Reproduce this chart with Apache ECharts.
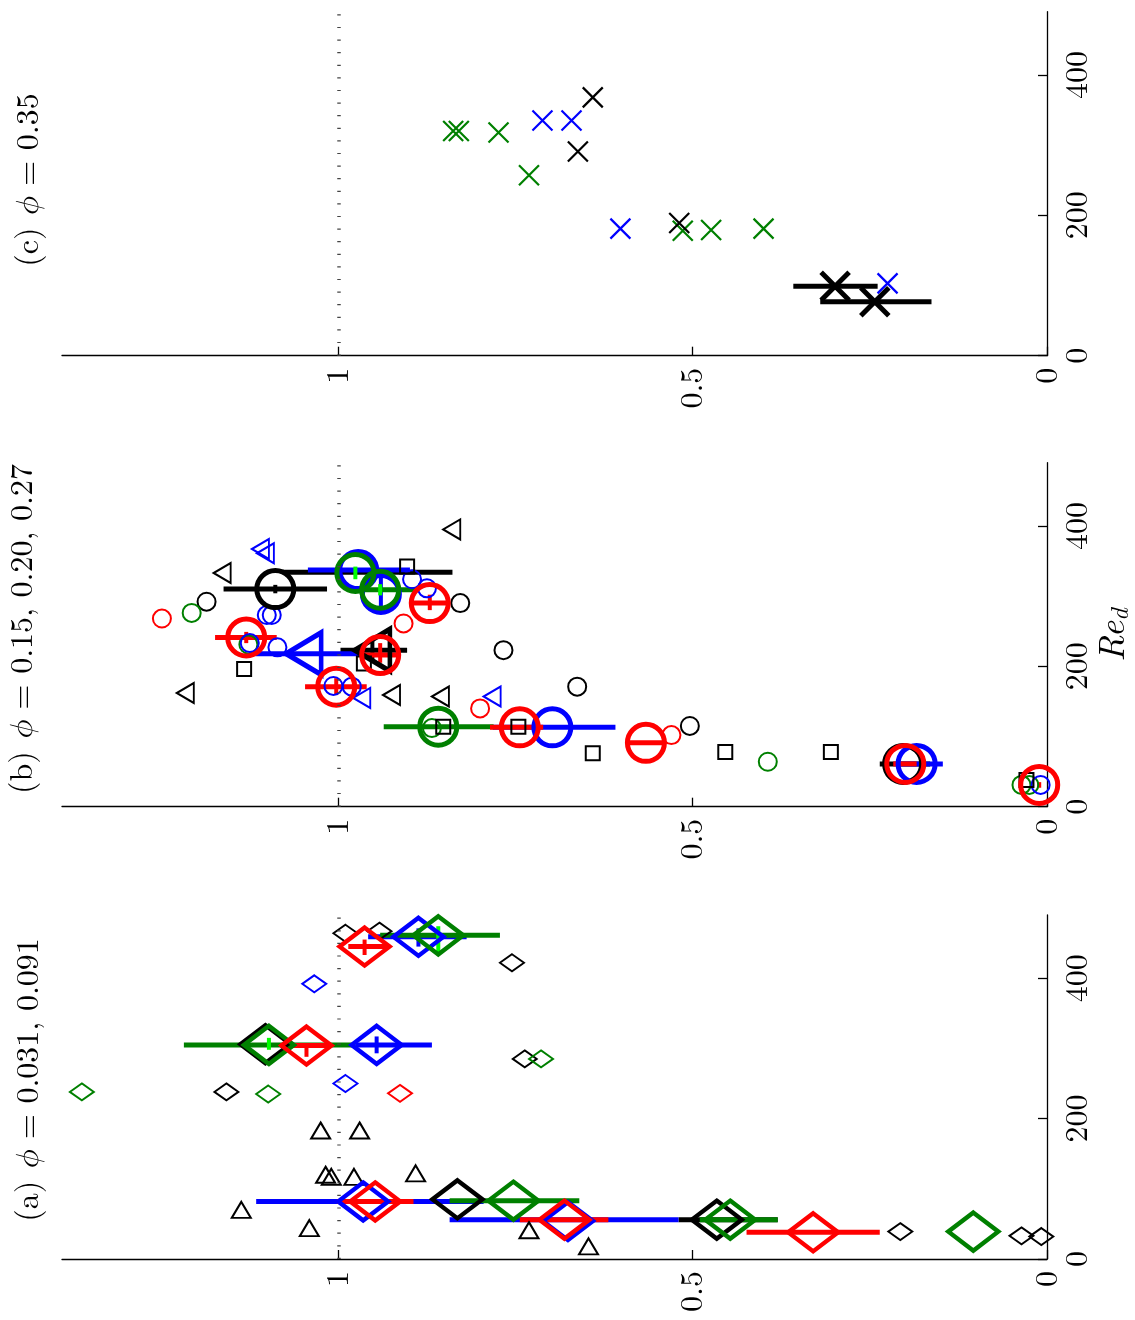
<!DOCTYPE html>
<html><head><meta charset="utf-8">
<script src="https://cdn.jsdelivr.net/npm/echarts@6/dist/echarts.min.js"></script>
<style>html,body{margin:0;padding:0;background:#fff}#c{width:1135px;height:1320px}</style>
</head><body><div id="c"></div>
<script>
// ---------- tick labels ----------
const valueTicks = [0, 0.5, 1];
const reTicks = [0, 200, 400];
const panelTitles = ['(c) {p|ϕ} = 0.35', '(b) {p|ϕ} = 0.15, 0.20, 0.27', '(a) {p|ϕ} = 0.031, 0.091'];

// ---------- panel (c) phi = 0.35 : [value, Re_d] ----------
const cSmallXGreen = [[0.838,320],[0.830,320],[0.774,318],[0.731,257],[0.514,178],[0.474,179],[0.400,181]];
const cSmallXBlue  = [[0.712,335],[0.671,335],[0.602,181],[0.225,103]];
const cSmallXBlack = [[0.641,368],[0.662,291],[0.519,189]];
const cBigXBlack   = [[0.299,99],[0.243,77]];
const cBarBlack    = [[99,0.358,0.239],[77,0.320,0.163]];   // [Re, vLo, vHi]

// ---------- panel (b) ----------
const bSmallCircleBlack = [[1.186,292],[0.828,290],[0.767,223],[0.663,171],[0.504,115]];
const bSmallCircleGreen = [[1.207,276],[1.127,231],[0.868,112],[0.394,64],[0.036,31],[0.025,31]];
const bSmallCircleRed   = [[1.249,268],[0.908,261],[0.800,140],[0.530,102]];
const bSmallCircleBlue  = [[1.101,273],[1.094,273],[0.896,324],[0.875,311],[1.125,233],[1.086,227],[1.007,172],[0.981,171],[0.009,31]];
const bSquareBlack      = [[0.903,342],[1.133,196],[0.964,204],[0.852,114],[0.746,114],[0.641,76],[0.454,78],[0.305,78],[0.029,38]];
const bSmallTriBlack    = [[1.164,333],[1.216,162],[0.925,159],[0.856,157],[0.840,395]];
const bSmallTriBlue     = [[1.110,367],[1.103,361],[0.967,155],[0.783,157]];
const bBigCircleBlack   = [[1.089,310],[0.203,61]];
const bBigTriBlack      = [[0.952,223]];
const bBigCircleBlue    = [[0.972,337],[0.940,303],[0.698,113],[0.184,61]];
const bBigTriBlue       = [[1.049,218]];
const bBigCircleGreen   = [[0.976,333],[0.941,309],[0.859,114]];
const bBigCircleRed     = [[0.871,290],[1.130,241],[0.941,216],[1.003,171],[0.566,91],[0.744,113],[0.200,61],[0.011,31]];
const bBarBlack = [[310,1.162,1.016],[334,1.078,0.839],[223,0.997,0.903],[61,0.236,0.165]];
const bBarBlue  = [[337,1.043,0.899],[218,1.117,0.969],[113,0.782,0.609],[61,0.210,0.147]];
const bBarGreen = [[309,0.980,0.890],[114,0.936,0.781]];
const bBarRed   = [[290,0.896,0.847],[241,1.174,1.087],[216,0.967,0.913],[171,1.047,0.960],[91,0.591,0.542],[113,0.786,0.711],[61,0.217,0.184]];
const bVBarBlack = [[1.089,304,316],[0.952,208,238]];          // [v, ReLo, ReHi]
const bVBarBlue  = [[0.940,278,328]];
const bVBarLime  = [[0.976,324,342],[0.941,301,317]];
const bVBarRed   = [[0.871,280,302],[1.130,233,249],[0.941,205,233],[1.003,159,183],[0.011,27,35]];

// ---------- panel (a) ----------
const aSmallDiaBlack = [[1.158,238],[0.990,464],[0.942,467],[0.755,422],[0.737,285],[0.207,39],[0.036,33],[0.008,32]];
const aSmallDiaGreen = [[1.362,238],[1.099,235],[0.714,285]];
const aSmallDiaBlue  = [[0.990,250],[1.034,392]];
const aSmallDiaRed   = [[0.913,236]];
const aSmallTriBlack = [[1.025,183],[0.970,183],[1.018,120],[1.010,117],[0.978,117],[0.891,122],[1.137,70],[1.041,44],[0.731,41],[0.647,18]];
const aBigDiaBlack = [[1.103,306],[0.832,85],[0.466,56]];
const aBigDiaBlue  = [[0.887,459],[0.946,305],[0.965,82],[0.676,54]];
const aBigDiaGreen = [[0.859,461],[1.098,305],[0.753,83],[0.447,56],[0.104,39]];
const aBigDiaRed   = [[0.963,445],[1.045,304],[0.948,82],[0.681,56],[0.330,38]];
const aBarBlack = [[56,0.520,0.380]];
const aBarBlue  = [[459,0.958,0.819],[305,0.976,0.868],[82,1.116,0.795],[56,0.843,0.520]];
const aBarGreen = [[461,0.941,0.772],[305,1.218,0.976],[83,0.843,0.660],[56,0.490,0.380]];
const aBarRed   = [[445,0.986,0.927],[304,1.082,1.009],[82,1.002,0.894],[56,0.744,0.619],[38,0.424,0.236]];
const aVBarBlue = [[0.887,445,471],[0.946,293,317]];
const aVBarLime = [[0.859,436,474],[1.098,298,315]];
const aVBarRed  = [[0.963,433,455],[1.045,288,307]];

// ---------- styling ----------
const FONT = '"Latin Modern Roman", "Liberation Serif", serif';
const PHIFONT = '"Latin Modern Math", "Latin Modern Roman", "Liberation Serif", serif';
const K = '#000000', B = '#0000ff', R = '#ff0000', G = '#008000', L = '#00ff00';
const XSYM = 'path://M0,0L10,10M10,0L0,10';
const tops = [11.7, 462.7, 915];

function pts(g, data, sym, size, color, lw, rot) {
  return {type:'scatter', xAxisIndex:g, yAxisIndex:g, data, symbol:sym, symbolSize:size,
    symbolRotate: rot || 0, silent:true, animation:false,
    itemStyle:{color:'rgba(0,0,0,0)', borderColor:color, borderWidth:lw, opacity:1},
    emphasis:{disabled:true}};
}
function hbars(g, data, color, lw) {
  return {type:'custom', xAxisIndex:g, yAxisIndex:g, data, encode:{x:[1,2], y:0}, silent:true, animation:false,
    renderItem:(p, api) => {
      const a = api.coord([api.value(1), api.value(0)]);
      const b = api.coord([api.value(2), api.value(0)]);
      return {type:'line', shape:{x1:a[0], y1:a[1], x2:b[0], y2:b[1]}, style:{stroke:color, lineWidth:lw}};
    }};
}
function vbars(g, data, color, lw) {
  return {type:'custom', xAxisIndex:g, yAxisIndex:g, data, encode:{x:0, y:[1,2]}, silent:true, animation:false,
    renderItem:(p, api) => {
      const a = api.coord([api.value(0), api.value(1)]);
      const b = api.coord([api.value(0), api.value(2)]);
      return {type:'line', shape:{x1:a[0], y1:a[1], x2:b[0], y2:b[1]}, style:{stroke:color, lineWidth:lw}};
    }};
}
function refLine(g) {
  return {type:'scatter', xAxisIndex:g, yAxisIndex:g, data:[], silent:true, animation:false,
    markLine:{silent:true, symbol:'none', animation:false, label:{show:false},
      lineStyle:{type:[1.2,11.4], color:'#444', width:3.5}, data:[{xAxis:1}]}};
}

const grids = [], xAxes = [], yAxes = [];
for (let i = 0; i < 3; i++) {
  grids.push({left:62, right:88, top:tops[i], height:344, containLabel:false});
  xAxes.push({gridIndex:i, type:'value', inverse:true, min:0, max:1.39, interval:0.5, position:'bottom',
    axisLine:{show:true, onZero:false, lineStyle:{color:'#000', width:1.3}},
    axisTick:{show:true, inside:true, length:9, customValues:valueTicks, lineStyle:{color:'#000', width:1.3}},
    axisLabel:{rotate:90, margin:12, fontFamily:FONT, fontSize:32, color:'#000', customValues:valueTicks,
      formatter: v => String(v)},
    splitLine:{show:false}});
  yAxes.push({gridIndex:i, type:'value', min:0, max:490, interval:200, position:'right',
    axisLine:{show:true, onZero:false, lineStyle:{color:'#000', width:1.3}},
    axisTick:{show:true, inside:true, length:9, customValues:reTicks, lineStyle:{color:'#000', width:1.3}},
    axisLabel:{rotate:90, margin:14, fontFamily:FONT, fontSize:32, color:'#000', customValues:reTicks,
      formatter: v => String(v)},
    splitLine:{show:false}});
}

const DS = [24,17], DB = [50,38];
const series = [
  refLine(0), refLine(1), refLine(2),
  // panel (c)
  pts(0, cSmallXGreen, XSYM, 20, G, 2.2),
  pts(0, cSmallXBlue, XSYM, 20, B, 2.2),
  pts(0, cSmallXBlack, XSYM, 20, K, 2.2),
  hbars(0, cBarBlack, K, 5),
  pts(0, cBigXBlack, XSYM, 28, K, 5),
  // panel (b)
  pts(1, bSmallCircleBlack, 'circle', 18, K, 2),
  pts(1, bSmallCircleGreen, 'circle', 18, G, 2),
  pts(1, bSmallCircleRed, 'circle', 18, R, 2),
  pts(1, bSmallCircleBlue, 'circle', 18, B, 2),
  pts(1, bSquareBlack, 'rect', 14, K, 2),
  pts(1, bSmallTriBlack, 'triangle', [20,17], K, 2, 90),
  pts(1, bSmallTriBlue, 'triangle', [20,17], B, 2, 90),
  hbars(1, bBarBlack, K, 5),
  pts(1, bBigCircleBlack, 'circle', 37, K, 5),
  pts(1, bBigTriBlack, 'triangle', [42,35], K, 5, 90),
  vbars(1, bVBarBlack, K, 4),
  hbars(1, bBarBlue, B, 5),
  pts(1, bBigCircleBlue, 'circle', 37, B, 5),
  pts(1, bBigTriBlue, 'triangle', [42,35], B, 5, 90),
  vbars(1, bVBarBlue, B, 4),
  hbars(1, bBarGreen, G, 5),
  pts(1, bBigCircleGreen, 'circle', 37, G, 5),
  vbars(1, bVBarLime, L, 4),
  hbars(1, bBarRed, R, 5),
  pts(1, bBigCircleRed, 'circle', 37, R, 5),
  vbars(1, bVBarRed, R, 4),
  // panel (a)
  pts(2, aSmallDiaBlack, 'diamond', DS, K, 2),
  pts(2, aSmallDiaGreen, 'diamond', DS, G, 2),
  pts(2, aSmallDiaBlue, 'diamond', DS, B, 2),
  pts(2, aSmallDiaRed, 'diamond', DS, R, 2),
  pts(2, aSmallTriBlack, 'triangle', [19,16], K, 2),
  hbars(2, aBarBlack, K, 5),
  pts(2, aBigDiaBlack, 'diamond', DB, K, 4.5),
  hbars(2, aBarBlue, B, 5),
  pts(2, aBigDiaBlue, 'diamond', DB, B, 4.5),
  vbars(2, aVBarBlue, B, 4),
  hbars(2, aBarGreen, G, 5),
  pts(2, aBigDiaGreen, 'diamond', DB, G, 4.5),
  vbars(2, aVBarLime, L, 4),
  hbars(2, aBarRed, R, 5),
  pts(2, aBigDiaRed, 'diamond', DB, R, 4.5),
  vbars(2, aVBarRed, R, 4)
];

const titlePos = [[28,180],[22,629],[28,1080]];
const graphics = panelTitles.map((t, i) => ({
  type:'text', x:titlePos[i][0], y:titlePos[i][1], rotation:Math.PI/2, silent:true,
  style:{text:t, align:'center', verticalAlign:'middle', fontFamily:FONT, fontSize:32, fill:'#000',
    rich:{p:{fontFamily:PHIFONT, fontSize:32, fontStyle:'italic', fill:'#000'}}}
}));
graphics.push({
  type:'text', x:1113, y:635, rotation:Math.PI/2, silent:true,
  style:{text:'{i|Re}{s|d}', align:'center', verticalAlign:'middle', fontFamily:FONT, fontSize:36, fill:'#000',
    rich:{i:{fontFamily:FONT, fontSize:36, fontStyle:'italic', fill:'#000'},
          s:{fontFamily:FONT, fontSize:25, fontStyle:'italic', fill:'#000', padding:[14,0,0,0]}}}
});

const chart = echarts.init(document.getElementById('c'), null, {renderer:'canvas'});
chart.setOption({animation:false, backgroundColor:'#fff', grid:grids, xAxis:xAxes, yAxis:yAxes,
  series, graphic:graphics, tooltip:{show:false}});
</script></body></html>
